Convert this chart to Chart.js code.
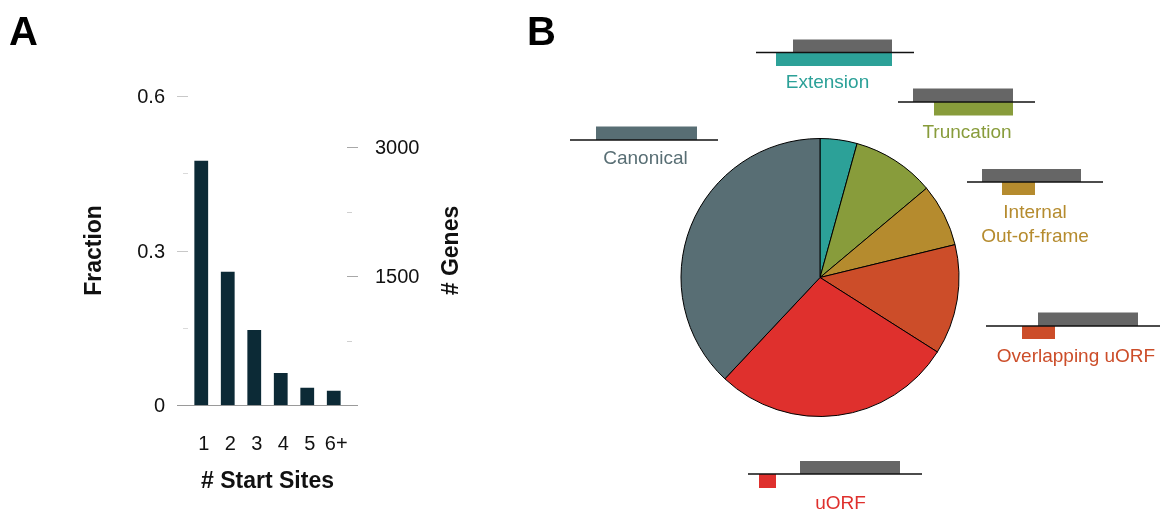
<!DOCTYPE html>
<html><head><meta charset="utf-8">
<script src="https://cdn.jsdelivr.net/npm/chart.js@4.4.1/dist/chart.umd.min.js"></script>
<style>
html,body{margin:0;padding:0;background:#fff;}
#wrap{position:relative;width:1167px;height:514px;overflow:hidden;background:#fff;}
canvas{position:absolute;top:0;left:0;}
</style></head><body>
<div id="wrap">
<canvas id="cA" width="480" height="514"></canvas>
<canvas id="cB" width="1167" height="514"></canvas>
</div>
<script>
// ---------- Panel A data ----------
const startSites = ['1', '2', '3', '4', '5', '6+'];
const fractionValues = [0.474, 0.259, 0.146, 0.0625, 0.034, 0.028];
const fractionTicks = [0, 0.3, 0.6];
const fractionMinorTicks = [0.15, 0.45];
const geneTicks = [1500, 3000];
const geneMinorTicks = [750, 2250];
const fractionMax = 0.6;
const geneMax = 3600;

// ---------- Panel B data ----------
const startTypes = ['Extension', 'Truncation', 'Internal Out-of-frame', 'Overlapping uORF', 'uORF', 'Canonical'];
const startTypeLabelLines = [['Extension'], ['Truncation'], ['Internal', 'Out-of-frame'], ['Overlapping uORF'], ['uORF'], ['Canonical']];
const startTypeShares = [4.3, 9.6, 7.3, 12.8, 28.0, 38.0];
const startTypeColors = ['#2ca198', '#889c3b', '#b58b2e', '#cc4d29', '#df302d', '#586e74'];

const FONT = '"Liberation Sans", Arial, Helvetica, sans-serif';
Chart.defaults.font.family = FONT;

// ---------- Panel A ----------
const ticksA = {
  id: 'ticksA',
  beforeDatasetsDraw(chart) {
    const ctx = chart.ctx, y = chart.scales.y, y2 = chart.scales.y2, ca = chart.chartArea;
    ctx.save();
    ctx.lineWidth = 1;
    const seg = (x1, x2, yy, color) => {
      ctx.strokeStyle = color;
      ctx.beginPath();
      ctx.moveTo(x1, Math.round(yy) + 0.5);
      ctx.lineTo(x2, Math.round(yy) + 0.5);
      ctx.stroke();
    };
    fractionTicks.forEach(v => { if (v > 0) seg(ca.left - 11, ca.left, y.getPixelForValue(v), '#c8c8c8'); });
    fractionMinorTicks.forEach(v => seg(ca.left - 5, ca.left, y.getPixelForValue(v), '#dadada'));
    geneTicks.forEach(v => seg(ca.right, ca.right + 11, y2.getPixelForValue(v), '#a8a8a8'));
    geneMinorTicks.forEach(v => seg(ca.right, ca.right + 5, y2.getPixelForValue(v), '#d0d0d0'));
    seg(ca.left - 11, ca.right + 11, y.getPixelForValue(0), '#9a9a9a');
    ctx.restore();
  },
  afterDraw(chart) {
    const ctx = chart.ctx, ca = chart.chartArea;
    ctx.save();
    ctx.translate(452, (ca.top + ca.bottom) / 2);
    ctx.rotate(-Math.PI / 2);
    ctx.font = 'bold 23px ' + FONT;
    ctx.fillStyle = '#111';
    ctx.textAlign = 'center';
    ctx.textBaseline = 'middle';
    ctx.fillText('# Genes', 0, 0);
    ctx.restore();
  }
};

new Chart(document.getElementById('cA'), {
  type: 'bar',
  data: {
    labels: startSites,
    datasets: [{
      data: fractionValues,
      backgroundColor: '#0c2a36',
      categoryPercentage: 1,
      barPercentage: 0.52,
      yAxisID: 'y'
    }]
  },
  options: {
    responsive: false, animation: false, devicePixelRatio: 1,
    layout: { padding: { top: 95.7, left: 0, right: 0, bottom: 0 } },
    plugins: { legend: { display: false }, tooltip: { enabled: false } },
    scales: {
      x: {
        type: 'category', position: 'bottom',
        grid: { display: false, drawTicks: false }, border: { display: false },
        ticks: { color: '#111', font: { size: 20 }, padding: 27.5, labelOffset: 2.5, maxRotation: 0, autoSkip: false },
        title: { display: true, text: '# Start Sites', color: '#111', font: { size: 23, weight: 'bold' }, padding: { top: 0, bottom: 18.5 } },
        afterFit(s) { s.height = 108.7; }
      },
      y: {
        position: 'left', min: 0, max: fractionMax,
        grid: { display: false, drawTicks: false }, border: { display: false },
        afterBuildTicks(s) { s.ticks = fractionTicks.map(v => ({ value: v })); },
        ticks: { color: '#111', font: { size: 20 }, padding: 23, labelOffset: 1.5, callback: v => String(v) },
        title: { display: true, text: 'Fraction', color: '#111', font: { size: 23, weight: 'bold' }, padding: { top: 81, bottom: 0 } },
        afterFit(s) { s.width = 188; }
      },
      y2: {
        position: 'right', min: 0, max: geneMax, display: true,
        grid: { display: false, drawTicks: false }, border: { display: false },
        afterBuildTicks(s) { s.ticks = geneTicks.map(v => ({ value: v })); },
        ticks: { color: '#111', font: { size: 20 }, padding: 28, labelOffset: 1.5, callback: v => String(v) },
        afterFit(s) { s.width = 133; }
      }
    }
  },
  plugins: [ticksA]
});

// ---------- Panel B ----------
// gene-structure sketches next to each slice (layout only)
const sketches = [
  { line: [756, 914, 52.5], gray: [793, 892, 39.5, 52.5], box: [776, 892, 52.5, 66], tx: 827.5, ty: [82.5] },
  { line: [898, 1035, 102], gray: [913, 1013, 88.5, 102], box: [934, 1013, 102, 115.5], tx: 967, ty: [132.5] },
  { line: [967, 1103, 182], gray: [982, 1081, 169, 182], box: [1002, 1035, 182, 195], tx: 1035, ty: [212.5, 236.5] },
  { line: [986, 1160, 326], gray: [1038, 1138, 312.5, 326], box: [1022, 1055, 326, 339], tx: 1076, ty: [356.5] },
  { line: [748, 922, 474], gray: [800, 900, 461, 474], box: [759, 776, 474, 488], tx: 840.5, ty: [503.5] },
  { line: [570, 718, 140], gray: null, box: [596, 697, 126.5, 140], tx: 645.5, ty: [158.5] }
];

const pieDecor = {
  id: 'pieDecor',
  afterDraw(chart) {
    const ctx = chart.ctx;
    ctx.save();
    sketches.forEach((s, i) => {
      const col = startTypeColors[i];
      if (s.gray) {
        ctx.fillStyle = '#666666';
        ctx.fillRect(s.gray[0], s.gray[2], s.gray[1] - s.gray[0], s.gray[3] - s.gray[2]);
      }
      ctx.fillStyle = col;
      ctx.fillRect(s.box[0], s.box[2], s.box[1] - s.box[0], s.box[3] - s.box[2]);
      ctx.strokeStyle = '#111';
      ctx.lineWidth = 1.5;
      ctx.beginPath();
      ctx.moveTo(s.line[0], s.line[2]);
      ctx.lineTo(s.line[1], s.line[2]);
      ctx.stroke();
      ctx.font = '19px ' + FONT;
      ctx.textAlign = 'center';
      ctx.textBaseline = 'middle';
      ctx.fillStyle = col;
      startTypeLabelLines[i].forEach((t, k) => ctx.fillText(t, s.tx, s.ty[k]));
    });
    ctx.font = 'bold 40px ' + FONT;
    ctx.fillStyle = '#000';
    ctx.textAlign = 'left';
    ctx.textBaseline = 'alphabetic';
    ctx.fillText('A', 9, 45);
    ctx.fillText('B', 527, 45);
    ctx.restore();
  }
};

new Chart(document.getElementById('cB'), {
  type: 'pie',
  data: {
    labels: startTypes,
    datasets: [{
      data: startTypeShares,
      backgroundColor: startTypeColors,
      borderColor: '#000',
      borderWidth: 1,
      radius: 139
    }]
  },
  options: {
    responsive: false, animation: false, devicePixelRatio: 1,
    radius: 139,
    layout: { padding: { left: 473, right: 0, top: 41, bottom: 0 } },
    plugins: { legend: { display: false }, tooltip: { enabled: false } }
  },
  plugins: [pieDecor]
});
</script>
</body></html>
